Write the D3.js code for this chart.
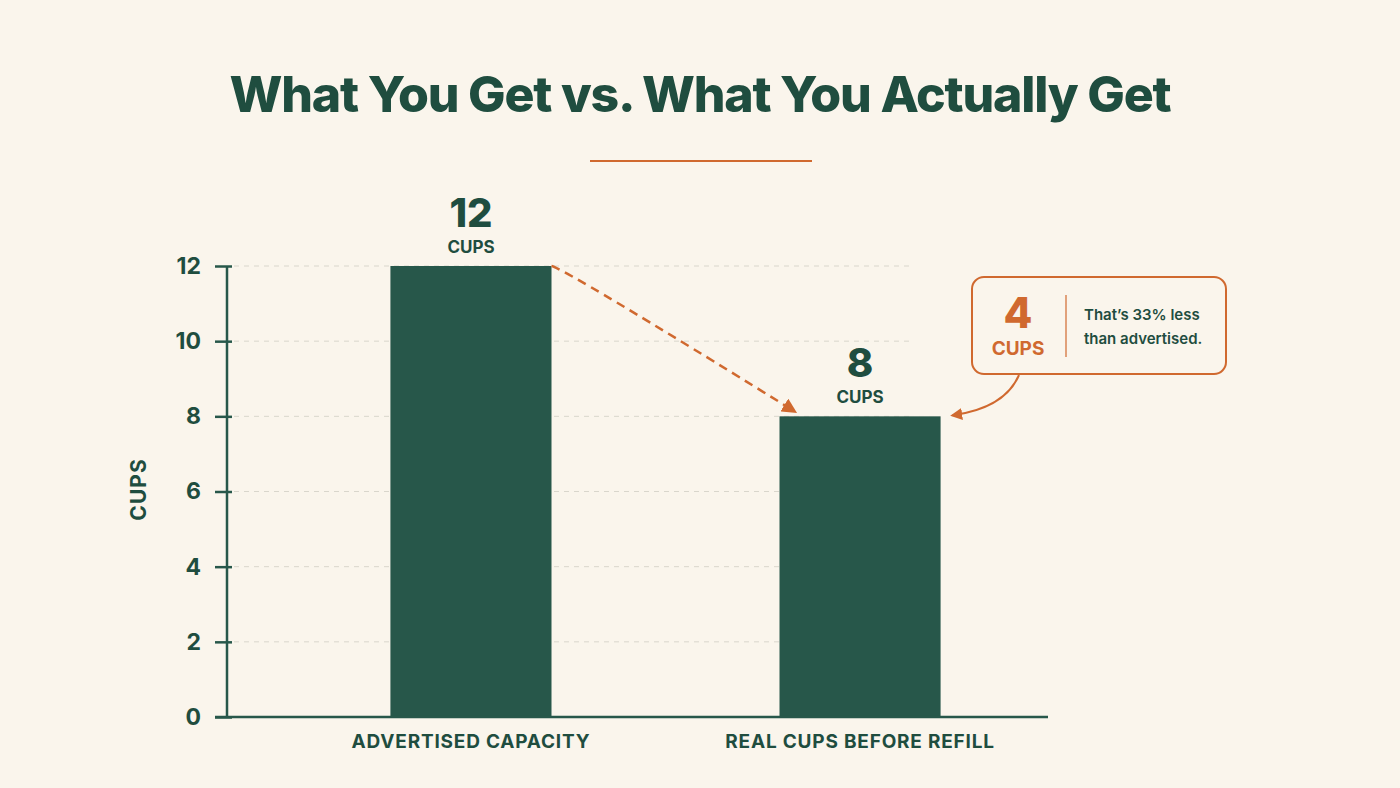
<!DOCTYPE html>
<html lang="en">
<head>
<meta charset="UTF-8">
<title>What You Get vs. What You Actually Get</title>
<script src="https://cdn.jsdelivr.net/npm/d3@7/dist/d3.min.js"></script>
<style>
    body { margin: 0; background: #faf5ec; }
    svg { display: block; font-family: Inter, "Noto Sans", sans-serif; }
</style>
</head>
<body>
<script>
    // chart values
    var categories = ["ADVERTISED CAPACITY", "REAL CUPS BEFORE REFILL"];
    var cups = [12, 8];
    var yTicks = [0, 2, 4, 6, 8, 10, 12];
    var unitLabel = "CUPS";
    var calloutLines = ["That\u2019s 33% less", "than advertised."];

    var green = "#27574a", ink = "#1f4d3f", orange = "#d0692f", bg = "#faf5ec";

    var svg = d3.select("body").append("svg")
        .attr("width", 1400)
        .attr("height", 788);

    svg.append("rect").attr("width", 1400).attr("height", 788).attr("fill", bg);

    var defs = svg.append("defs");
    defs.append("marker")
        .attr("id", "head")
        .attr("viewBox", "0 0 10 10")
        .attr("refX", 8).attr("refY", 5)
        .attr("markerWidth", 6).attr("markerHeight", 6)
        .attr("markerUnits", "strokeWidth")
        .attr("orient", "auto")
        .append("path").attr("d", "M0,0 L10,5 L0,10 z").attr("fill", orange);

    // title
    svg.append("text")
        .attr("x", 700).attr("y", 112)
        .attr("text-anchor", "middle")
        .attr("font-size", 50).attr("font-weight", 800)
        .attr("letter-spacing", -1.2)
        .attr("fill", ink)
        .text("What You Get vs. What You Actually Get");
    svg.append("line")
        .attr("x1", 590).attr("x2", 812).attr("y1", 161).attr("y2", 161)
        .attr("stroke", orange).attr("stroke-width", 2);

    var x = d3.scaleBand()
        .domain(categories)
        .range([227, 1104])
        .paddingInner(0.586)
        .paddingOuter(0.42);

    var y = d3.scaleLinear()
        .domain([0, 12])
        .range([717, 266]);

    // grid
    svg.append("g").selectAll("line")
        .data(yTicks.filter(function(d){ return d > 0; }))
        .enter().append("line")
        .attr("x1", 234).attr("x2", 910)
        .attr("y1", function(d){ return y(d); })
        .attr("y2", function(d){ return y(d); })
        .attr("stroke", "#d9d6cc")
        .attr("stroke-width", 1)
        .attr("stroke-dasharray", "5,5");

    // bars
    svg.append("g").selectAll("rect")
        .data(cups)
        .enter().append("rect")
        .attr("x", function(d, i){ return x(categories[i]); })
        .attr("y", function(d){ return y(d); })
        .attr("width", x.bandwidth())
        .attr("height", function(d){ return y(0) - y(d); })
        .attr("fill", green);

    // y axis
    var yAxis = d3.axisLeft(y).tickValues(yTicks).tickSize(12).tickPadding(14);
    var gy = svg.append("g")
        .attr("transform", "translate(227,0)")
        .call(yAxis);
    gy.select(".domain").remove();
    gy.append("line").attr("x1", 0).attr("x2", 0).attr("y1", y(12)).attr("y2", y(0))
        .attr("stroke", green).attr("stroke-width", 2.5);
    gy.selectAll(".tick line").attr("stroke", green).attr("stroke-width", 2.5).attr("x2", -12)
        .attr("x1", 5);
    gy.selectAll(".tick text")
        .attr("font-size", 23).attr("font-weight", 700)
        .attr("font-family", "Inter, sans-serif")
        .attr("fill", ink);

    // x axis
    var xAxis = d3.axisBottom(x).tickSize(0).tickPadding(18);
    var gx = svg.append("g")
        .attr("transform", "translate(0," + y(0) + ")")
        .call(xAxis);
    gx.select(".domain").remove();
    gx.append("line").attr("x1", 215).attr("x2", 1048).attr("y1", 0).attr("y2", 0)
        .attr("stroke", green).attr("stroke-width", 2.5);
    gx.selectAll(".tick text")
        .attr("font-size", 19).attr("font-weight", 700)
        .attr("font-family", "Inter, sans-serif")
        .attr("letter-spacing", 0.8)
        .attr("fill", ink);

    svg.append("text")
        .attr("transform", "translate(146," + (y(6) - 2) + ") rotate(-90)")
        .attr("text-anchor", "middle")
        .attr("font-size", 21).attr("font-weight", 700)
        .attr("letter-spacing", 1)
        .attr("fill", ink)
        .text(unitLabel);

    // value labels
    var labels = svg.append("g").selectAll("g")
        .data(cups)
        .enter().append("g")
        .attr("transform", function(d, i){
            return "translate(" + (x(categories[i]) + x.bandwidth() / 2) + "," + y(d) + ")";
        });
    labels.append("text")
        .attr("y", -39).attr("text-anchor", "middle")
        .attr("font-size", 40).attr("font-weight", 800)
        .attr("fill", ink)
        .text(function(d){ return d; });
    labels.append("text")
        .attr("y", -13).attr("text-anchor", "middle")
        .attr("font-size", 17).attr("font-weight", 700)
        .attr("fill", ink)
        .text(unitLabel);

    // dashed drop arrow
    var x0 = x(categories[0]) + x.bandwidth(), y0 = y(cups[0]);
    var x1 = x(categories[1]) + 15, y1 = y(cups[1]) - 5;
    svg.append("path")
        .attr("d", "M" + x0 + "," + y0 + " Q" + (x0 + 12) + "," + (y0 + 2) + " " + x1 + "," + y1)
        .attr("fill", "none")
        .attr("stroke", orange).attr("stroke-width", 2.5)
        .attr("stroke-dasharray", "9,6")
        .attr("marker-end", "url(#head)");

    // callout
    var diff = cups[0] - cups[1];
    var cb = svg.append("g").attr("transform", "translate(972,277)");
    cb.append("rect")
        .attr("width", 254).attr("height", 97).attr("rx", 12)
        .attr("fill", bg).attr("stroke", orange).attr("stroke-width", 2);
    cb.append("text")
        .attr("x", 46).attr("y", 51).attr("text-anchor", "middle")
        .attr("font-size", 42).attr("font-weight", 800).attr("fill", orange)
        .text(diff);
    cb.append("text")
        .attr("x", 46).attr("y", 78).attr("text-anchor", "middle")
        .attr("font-size", 19).attr("font-weight", 700).attr("fill", orange)
        .text(unitLabel);
    cb.append("line")
        .attr("x1", 94).attr("x2", 94).attr("y1", 18).attr("y2", 80)
        .attr("stroke", orange).attr("stroke-width", 1.2);
    cb.selectAll(".note").data(calloutLines).enter().append("text")
        .attr("class", "note")
        .attr("x", 112).attr("y", function(d, i){ return 43 + i * 24; })
        .attr("font-size", 15).attr("font-weight", 600).attr("fill", ink)
        .text(function(d){ return d; });

    var bx = x(categories[1]) + x.bandwidth(), by = y(cups[1]);
    svg.append("path")
        .attr("d", "M1019,375 Q1005,408 " + (bx + 12) + "," + (by - 1))
        .attr("fill", "none")
        .attr("stroke", orange).attr("stroke-width", 2)
        .attr("marker-end", "url(#head)");
</script>
</body>
</html>
